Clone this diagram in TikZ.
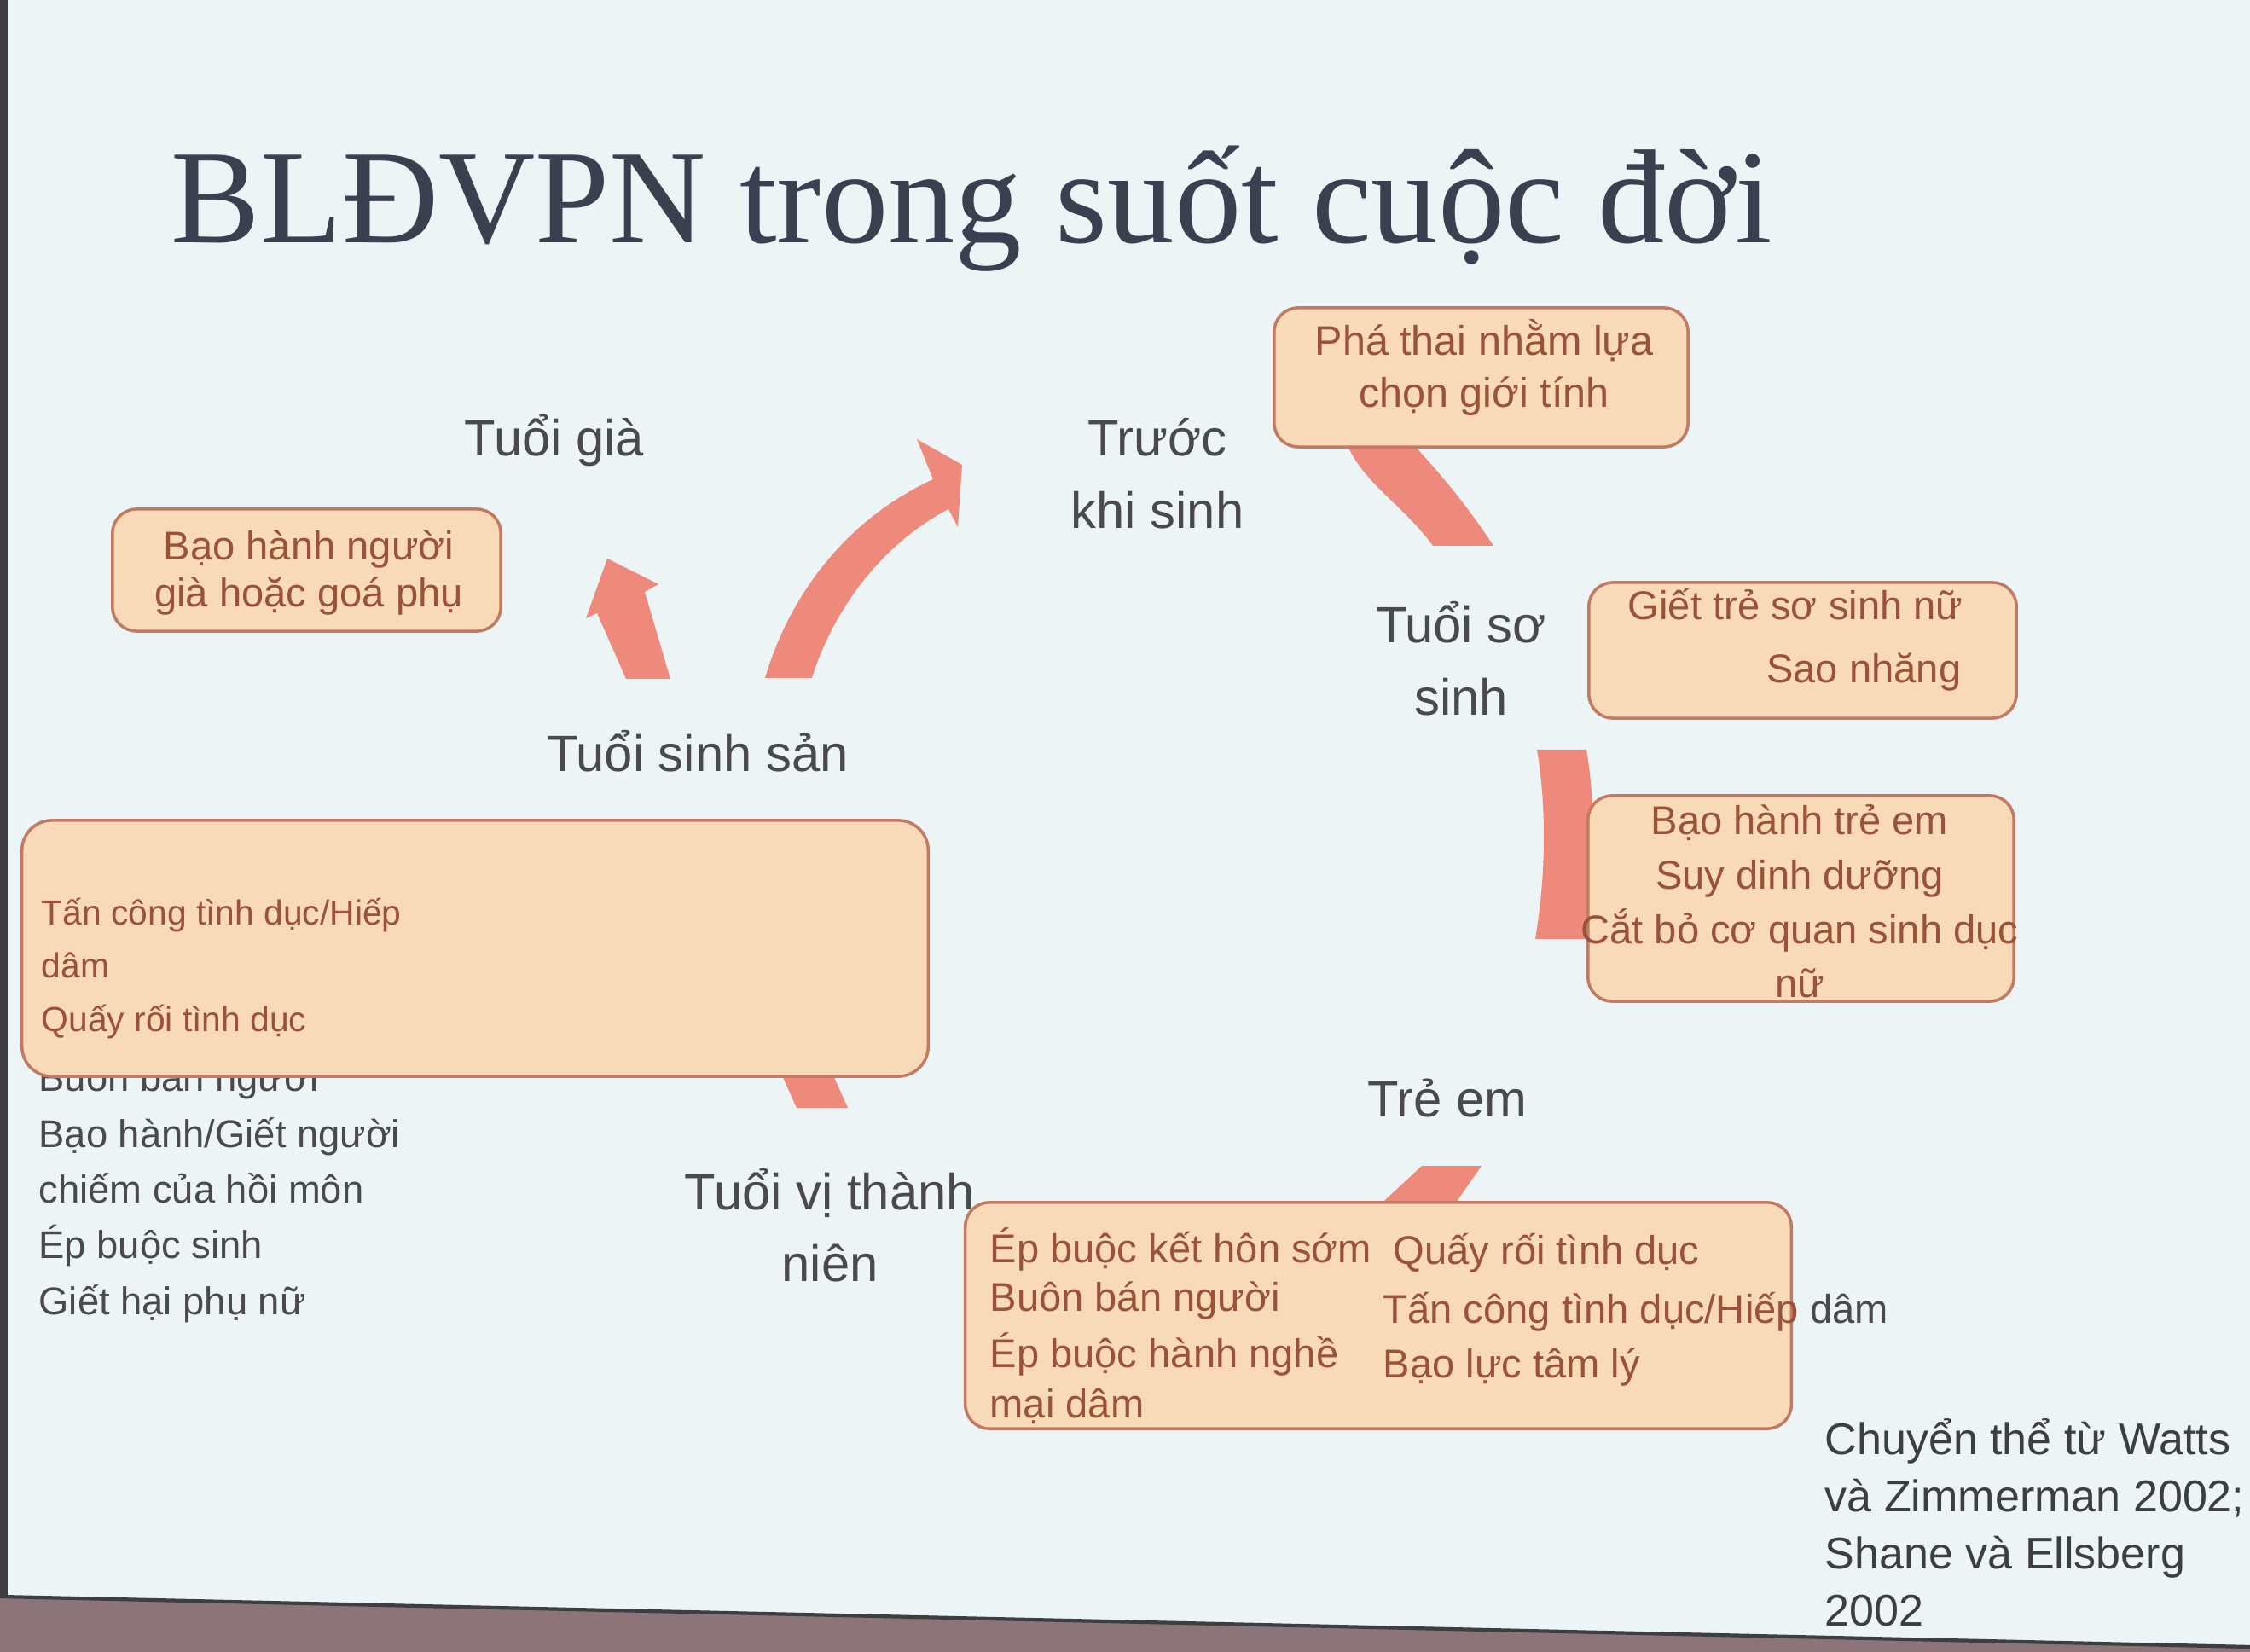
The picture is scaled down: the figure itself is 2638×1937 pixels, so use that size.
\documentclass[tikz,border=0pt]{standalone}
\usepackage{fontspec}
\setmainfont{Liberation Serif}
\newfontfamily\sansf{Liberation Sans}
\newcommand\mlines[2][c]{\begin{tabular}[t]{@{}#1@{}}#2\end{tabular}}
\definecolor{bgcol}{HTML}{EDF4F6}
\definecolor{arrowcol}{HTML}{EE8A7C}
\definecolor{boxfill}{HTML}{F8D9B8}
\definecolor{boxline}{HTML}{C27A62}
\definecolor{boxtxt}{HTML}{9A5238}
\definecolor{labcol}{HTML}{4A4A4E}
\definecolor{titlecol}{HTML}{3B4050}
\definecolor{screenedge}{HTML}{8C7479}
\definecolor{edgeline}{HTML}{3D3D44}
\begin{document}
\begin{tikzpicture}[x=0.01cm,y=-0.01cm,
  lab/.style={font=\sansf\fontsize{17}{23.9}\selectfont, text=labcol, anchor=base, inner sep=0pt},
  boxs/.style={draw=boxline, fill=boxfill, line width=1pt, rounded corners=8pt, inner sep=0pt},
  btxt/.style={font=\sansf\fontsize{13.4}{17.6}\selectfont, text=boxtxt, inner sep=0pt},
  stxt/.style={font=\sansf\fontsize{11.6}{15}\selectfont, text=boxtxt, inner sep=0pt, anchor=base west},
  gtxt/.style={btxt, text=labcol},
  band/.style={fill=arrowcol}]
\useasboundingbox (0,0) rectangle (2638,1937);
\fill[bgcol] (0,0) rectangle (2638,1937);
\fill[screenedge] (0,1872) -- (2638,1931) -- (2638,1937) -- (0,1937) -- cycle;
\draw[edgeline, line width=1.2pt] (0,1872) -- (2638,1931);
\fill[edgeline] (0,0) rectangle (9,1872);

% title
\node[anchor=base west, font=\fontsize{44.6}{50}\selectfont, text=titlecol, inner sep=0pt] (title) at (200,285) {BLĐVPN trong suốt cuộc đời};

% stage labels
\node[lab] (gia) at (650,535) {Tuổi già};
\node[lab] (truoc) at (1357,535) {\mlines{Trước\\khi sinh}};
\node[lab] (so) at (1713,754) {\mlines{Tuổi sơ\\sinh}};
\node[lab] (sinhsan) at (818,905) {Tuổi sinh sản};
\node[lab] (treem) at (1697,1310) {Trẻ em};
\node[lab] (vtn) at (973,1418) {\mlines{Tuổi vị thành\\niên}};

% arrow bands (cycle)
\coordinate (aS) at (925,795);
\coordinate (aT) at (1128,545);
\fill[band] (897,795) .. controls (925,700) and (990,610) .. (1094,562)
  -- (1075,515) -- (aT) -- (1123,618) -- (1112,597)
  .. controls (1030,640) and (975,720) .. (952,795) -- cycle;
\coordinate (gS) at (760,796);
\coordinate (gT) at (712,655);
\fill[band] (734,796) -- (700,719) -- (687,725) -- (gT) -- (772,685) -- (756,694) -- (786,796) -- cycle;
\coordinate (bS) at (1605,500);
\coordinate (bE) at (1716,640);
\fill[band] (1573,500) .. controls (1585,560) and (1640,585) .. (1680,640)
  -- (1751,640) .. controls (1715,585) and (1680,545) .. (1637,500) -- cycle;
\coordinate (cS) at (1831,879);
\coordinate (cE) at (1828,1101);
\fill[band] (1802,879) .. controls (1814,950) and (1812,1030) .. (1800,1101)
  -- (1858,1101) .. controls (1870,1030) and (1872,950) .. (1860,879) -- cycle;
\coordinate (dS) at (1702,1367);
\coordinate (dE) at (1655,1420);
\fill[band] (1667,1367) -- (1737,1367) -- (1700,1420) -- (1610,1420) -- cycle;
\coordinate (eS) at (942,1250);
\coordinate (eE) at (964,1299);
\fill[band] (912,1250) -- (972,1250) -- (994,1299) -- (934,1299) -- cycle;

% list below the big left box (partly hidden by it)
\node[gtxt, anchor=base west, font=\sansf\fontsize{12.9}{18.56}\selectfont] (l4) at (45,1280)
  {\mlines[l]{Buôn bán người\\Bạo hành/Giết người\\chiếm của hồi môn\\Ép buộc sinh\\Giết hại phụ nữ}};

% boxes
\node[boxs, minimum width=4.85cm, minimum height=1.63cm] (bPha) at (1736.5,442.5) {};
\node[boxs, minimum width=5.01cm, minimum height=1.59cm] (bGiet) at (2113.5,762.5) {};
\node[boxs, minimum width=4.99cm, minimum height=2.41cm] (bTre) at (2111.5,1053.5) {};
\node[boxs, minimum width=9.68cm, minimum height=2.65cm] (bVtn) at (1616,1542.5) {};
\node[boxs, minimum width=10.62cm, minimum height=3.00cm, rounded corners=10pt] (bSan) at (557,1112) {};
\node[boxs, minimum width=4.55cm, minimum height=1.43cm] (bGia) at (359.5,668.5) {};

% box texts
\node[btxt, anchor=base, font=\sansf\fontsize{13.8}{17.1}\selectfont] (tPha) at (1740,417) {\mlines{Phá thai nhằm lựa\\chọn giới tính}};
\node[btxt, anchor=base east] (tGiet1) at (2302,727) {Giết trẻ sơ sinh nữ};
\node[btxt, anchor=base east] (tGiet2) at (2300,801) {Sao nhăng};
\node[btxt, anchor=base, font=\sansf\fontsize{13.4}{18.1}\selectfont] (tTre) at (2110,979) {\mlines{Bạo hành trẻ em\\Suy dinh dưỡng\\Cắt bỏ cơ quan sinh dục\\nữ}};
\node[btxt, anchor=base, font=\sansf\fontsize{13.4}{15.6}\selectfont] (tGia) at (362,657) {\mlines{Bạo hành người\\già hoặc goá phụ}};
\node[stxt] (l1) at (48,1085) {Tấn công tình dục/Hiếp};
\node[stxt] (l2) at (48,1147) {dâm};
\node[stxt] (l3) at (48,1210) {Quấy rối tình dục};
\node[btxt, anchor=base west] (v1) at (1160,1480) {Ép buộc kết hôn sớm};
\node[btxt, anchor=base west] (v2) at (1160,1537) {Buôn bán người};
\node[btxt, anchor=base west] (v3) at (1160,1603) {Ép buộc hành nghề};
\node[btxt, anchor=base west] (v4) at (1160,1662) {mại dâm};
\node[btxt, anchor=base west] (w1) at (1633,1482) {Quấy rối tình dục};
\node[btxt, anchor=base west] (w2) at (1621,1551) {Tấn công tình dục/Hiếp {\color{labcol}dâm}};
\node[btxt, anchor=base west] (w3) at (1621,1615) {Bạo lực tâm lý};

% citation
\node[anchor=base west, inner sep=0pt, text=edgeline, font=\sansf\fontsize{14.8}{19.06}\selectfont] (cite) at (2139,1705)
  {\mlines[l]{Chuyển thể từ Watts\\và Zimmerman~2002;\\Shane và Ellsberg\\2002}};
\end{tikzpicture}
\end{document}
